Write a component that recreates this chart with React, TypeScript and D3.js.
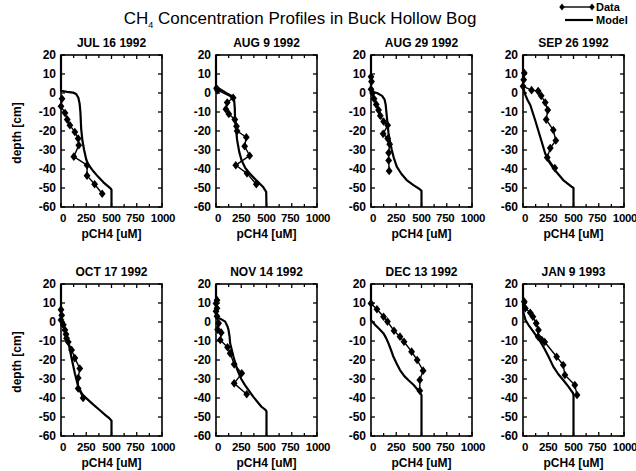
import React from "react";
import * as d3 from "d3";

// ---- data: [pCH4 (uM), depth (cm)] ----
const panelTitles = ["JUL 16 1992", "AUG 9 1992", "AUG 29 1992", "SEP 26 1992", "OCT 17 1992", "NOV 14 1992", "DEC 13 1992", "JAN 9 1993"];

const jul16Data: [number, number][] = [[10,-3],[0,-7],[40,-10.5],[62,-14],[88,-17],[137,-20.5],[170,-24],[176,-27.5],[127,-33.5],[258,-38],[258,-43.5],[333,-48],[408,-53]];
const jul16Model: [number, number][] = [[0,20],[0,1.2],[60,0.6],[120,0.2],[150,-0.5],[172,-2.5],[184,-5.5],[192,-10],[200,-19],[212,-25],[229,-30],[250,-35],[268,-37.5],[310,-40.5],[366,-44],[420,-47],[490,-50.2],[500,-51],[500,-60]];

const aug9Data: [number, number][] = [[5,2.5],[15,1.5],[170,-2.5],[111,-5],[98,-8.5],[127,-11],[186,-14],[203,-17.5],[209,-20],[300,-23.3],[284,-28],[333,-33],[196,-38],[307,-42.3],[399,-48]];
const aug9Model: [number, number][] = [[0,20],[0,3.3],[40,2],[100,0],[170,-2],[180,-4],[186,-8],[188,-12.5],[198,-19],[209,-24.7],[230,-31],[252,-35.3],[290,-39.5],[333,-42.3],[400,-46],[464,-49.3],[497,-52],[500,-60]];

const aug29Data: [number, number][] = [[0,8.5],[5,6],[0,2],[15,0],[30,-3],[52,-6],[75,-9],[92,-12],[125,-15],[165,-17],[120,-21.5],[165,-24],[185,-27],[175,-31.5],[175,-35.5],[180,-41]];
const aug29Model: [number, number][] = [[0,20],[0,0.8],[60,0],[110,-1.5],[135,-3.5],[145,-6],[157,-12.5],[173,-21],[190,-26],[206,-30],[225,-34],[255,-38.8],[300,-42.5],[353,-45.8],[420,-48.5],[480,-50.5],[500,-51.5],[500,-60]];

const sep26Data: [number, number][] = [[13,10.5],[7,7],[0,3.5],[85,1.5],[150,1],[180,-1.5],[220,-5],[245,-9],[230,-14],[300,-19.5],[325,-25],[270,-29],[240,-34],[315,-39.5]];
const sep26Model: [number, number][] = [[0,20],[0,3.3],[23,-1],[45,-3.7],[72,-6.3],[120,-14.2],[170,-23],[219,-31.7],[255,-36],[300,-39.6],[398,-45.8],[480,-49.3],[500,-50],[500,-60]];

const oct17Data: [number, number][] = [[0,6.5],[7,3.5],[0,1],[23,-1.5],[39,-4.2],[50,-6.5],[55,-8.6],[72,-10.5],[105,-14.7],[137,-19],[186,-24.5],[170,-29.5],[170,-35],[219,-40]];
const oct17Model: [number, number][] = [[0,20],[0,1],[20,-1.5],[39,-4.2],[72,-10.4],[105,-19.1],[137,-27],[170,-34],[210,-38],[252,-40.2],[320,-43.5],[382,-46.3],[440,-49],[480,-50.7],[500,-52],[500,-60]];

const nov14Data: [number, number][] = [[10,11.5],[0,9.8],[10,7.2],[0,5.6],[10,3],[26,-0.7],[16,-4],[52,-5.6],[42,-9.5],[114,-13.3],[140,-16.5],[180,-22.3],[255,-27],[180,-32.3],[304,-38]];
const nov14Model: [number, number][] = [[0,20],[0,2.8],[50,1.5],[91,0.2],[115,-2.5],[124,-4.2],[135,-8],[140,-11.2],[173,-18.3],[212,-25.3],[250,-30],[287,-33.2],[368,-39.3],[450,-44.6],[490,-46.3],[500,-47],[500,-60]];

const dec13Data: [number, number][] = [[0,9.8],[59,6.7],[124,2.8],[163,0.2],[228,-4.6],[287,-7.7],[327,-10.4],[402,-15.6],[457,-20],[516,-25.6],[483,-30.5],[483,-36.2]];
const dec13Model: [number, number][] = [[0,20],[0,1],[42,-1.6],[85,-3.8],[124,-6],[150,-8.5],[173,-11.2],[200,-15],[222,-18.3],[255,-22],[287,-25.3],[330,-28.5],[369,-30.5],[420,-33],[450,-34.9],[490,-37.5],[500,-38.5],[500,-60]];

const jan9Data: [number, number][] = [[13,10.7],[23,7.2],[72,4.9],[98,2.8],[131,-0.7],[153,-4.2],[150,-7.7],[186,-9.5],[215,-10.5],[333,-18.3],[398,-22.6],[415,-27.9],[513,-33.2],[535,-38.4]];
const jan9Model: [number, number][] = [[0,20],[0,8],[6,4.6],[25,1],[55,-1.6],[95,-4.5],[137,-7.7],[180,-11],[219,-14.7],[260,-19],[300,-23.5],[350,-27.5],[398,-30.5],[450,-34],[496,-37.5],[500,-38.5],[500,-60]];

const dataSeries = [jul16Data, aug9Data, aug29Data, sep26Data, oct17Data, nov14Data, dec13Data, jan9Data];
const modelSeries = [jul16Model, aug9Model, aug29Model, sep26Model, oct17Model, nov14Model, dec13Model, jan9Model];

const xTickLabels = [0, 250, 500, 750, 1000];
const yTickLabels = [20, 10, 0, -10, -20, -30, -40, -50, -60];
const xDomain: [number, number] = [0, 1000];
const yDomain: [number, number] = [-60, 20];

// ---- layout ----
const colLefts = [61, 216, 371, 523];
const rowTops = [55, 284];
const PW = 101;
const PH = 152;
const FONT = "'Liberation Sans', Arial, Helvetica, sans-serif";
const diamond = "M0,-4.3L3.4,0L0,4.3L-3.4,0Z";

function Panel({ idx }: { idx: number }) {
  const col = idx % 4;
  const row = Math.floor(idx / 4);
  const left = colLefts[col];
  const top = rowTops[row];
  const x = d3.scaleLinear().domain(xDomain).range([0, PW]);
  const y = d3.scaleLinear().domain(yDomain).range([PH, 0]);
  const line = d3.line<[number, number]>().x((d) => x(d[0])).y((d) => y(d[1]));
  const data = dataSeries[idx];
  const model = modelSeries[idx];
  const xMinor = d3.range(0, 1001, 125);
  const yMinor = d3.range(-60, 21, 10);
  const xOff = (v: number) => (v === 0 ? 2 : v === 750 ? -1.5 : v === 1000 ? 1 : 0);
  return (
    <g transform={`translate(${left},${top})`}>
      <text x={PW / 2} y={-8} textAnchor="middle" fontFamily={FONT} fontWeight="bold" fontSize={12}>
        {panelTitles[idx]}
      </text>
      <path d={line(model) || ""} fill="none" stroke="#000" strokeWidth={2.2} strokeLinejoin="round" />
      <path d={line(data) || ""} fill="none" stroke="#000" strokeWidth={1.4} strokeLinejoin="round" />
      {data.map((d, i) => (
        <path key={i} d={diamond} transform={`translate(${x(d[0])},${y(d[1])})`} fill="#000" />
      ))}
      <rect x={0} y={0} width={PW} height={PH} fill="none" stroke="#000" strokeWidth={1.6} />
      {xMinor.map((v) => (
        <g key={"xt" + v}>
          <line x1={x(v)} x2={x(v)} y1={PH} y2={PH - (v % 250 === 0 ? 4 : 3)} stroke="#000" strokeWidth={1.3} />
          <line x1={x(v)} x2={x(v)} y1={0} y2={v % 250 === 0 ? 4 : 3} stroke="#000" strokeWidth={1.3} />
        </g>
      ))}
      {yMinor.map((v) => (
        <g key={"yt" + v}>
          <line x1={0} x2={4} y1={y(v)} y2={y(v)} stroke="#000" strokeWidth={1.3} />
          <line x1={PW} x2={PW - 4} y1={y(v)} y2={y(v)} stroke="#000" strokeWidth={1.3} />
        </g>
      ))}
      {yTickLabels.map((v) => (
        <text key={"yl" + v} x={-5} y={y(v) + 4} textAnchor="end" fontFamily={FONT} fontWeight="bold" fontSize={12}>
          {v}
        </text>
      ))}
      {xTickLabels.map((v) => (
        <text key={"xl" + v} x={x(v) + xOff(v)} y={PH + 15} textAnchor="middle" fontFamily={FONT} fontWeight="bold" fontSize={11.5} letterSpacing={-0.3}>
          {v}
        </text>
      ))}
      <text x={PW / 2} y={PH + 31} textAnchor="middle" fontFamily={FONT} fontWeight="bold" fontSize={12}>
        pCH4 [uM]
      </text>
      {col === 0 && (
        <text transform={`translate(-40,${PH / 2 + 2}) rotate(-90)`} textAnchor="middle" fontFamily={FONT} fontWeight="bold" fontSize={12}>
          depth [cm]
        </text>
      )}
    </g>
  );
}

export default function App() {
  return (
    <svg width={636} height={471} style={{ position: "absolute", left: 0, top: 0, background: "#fff" }}>
      <rect width={636} height={471} fill="#fff" />
      <text x={300} y={24} textAnchor="middle" fontFamily={FONT} fontSize={17}>
        CH<tspan fontSize={9} dy={4}>4</tspan>
        <tspan dy={-4}> Concentration Profiles in Buck Hollow Bog</tspan>
      </text>
      {/* legend */}
      <g>
        <line x1={562} x2={592} y1={7} y2={7} stroke="#000" strokeWidth={1.4} />
        <path d={diamond} transform="translate(562,7) scale(0.8)" fill="#000" />
        <path d={diamond} transform="translate(592,7) scale(0.8)" fill="#000" />
        <text x={596} y={11} fontFamily={FONT} fontWeight="bold" fontSize={11}>Data</text>
        <line x1={565} x2={593} y1={20} y2={20} stroke="#000" strokeWidth={2.2} />
        <text x={596} y={24} fontFamily={FONT} fontWeight="bold" fontSize={11}>Model</text>
      </g>
      {panelTitles.map((_, i) => (
        <Panel key={i} idx={i} />
      ))}
    </svg>
  );
}
